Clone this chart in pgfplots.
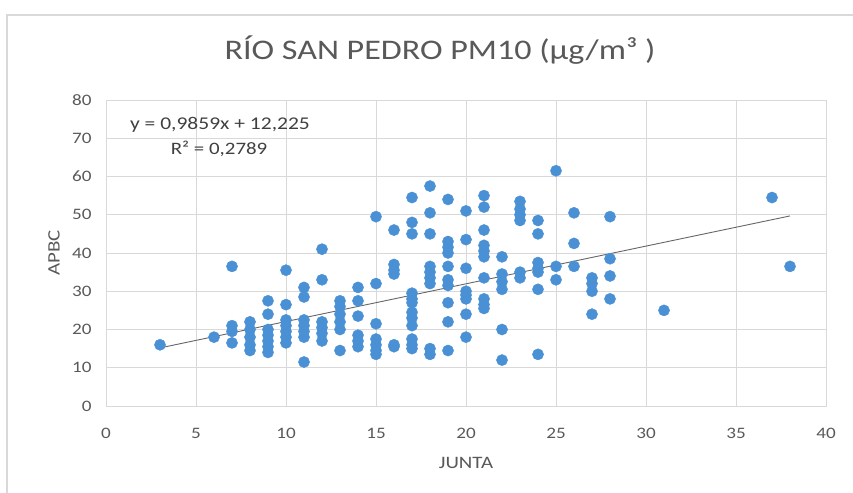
\documentclass[border=0pt]{standalone}
\usepackage{pgfplots}
\pgfplotsset{compat=1.18}
\usepackage{fontspec}
\setmainfont{Carlito}[FakeStretch=1.2]
\definecolor{ptblue}{HTML}{4A90D4}
\definecolor{txtgray}{HTML}{595959}
\definecolor{gridgray}{HTML}{D9D9D9}
\begin{document}
\begin{tikzpicture}[x=1bp,y=1bp]
\useasboundingbox (0,0) rectangle (853,493);
\draw[gridgray, line width=1.2bp] (7,-10) -- (7,478) -- (870,478);
\node[text=txtgray, font=\fontsize{28.5}{28.5}\selectfont] at (440,443) {RÍO SAN PEDRO PM10 (µg/m³ )};
\begin{axis}[
  at={(106bp,87bp)}, anchor=south west,
  width=720bp, height=306bp, scale only axis,
  xmin=0, xmax=40, ymin=0, ymax=80,
  xtick={0,5,...,40}, ytick={0,10,...,80},
  grid=major,
  grid style={gridgray, line width=0.9bp},
  axis line style={gridgray, line width=0.9bp},
  major tick length=0pt,
  ticklabel style={font=\fontsize{16}{16}\selectfont, text=txtgray},
  /pgf/number format/assume math mode=true,
  xticklabel style={anchor=center, yshift=-27bp},
  yticklabel style={anchor=east, xshift=-11bp},
  xlabel={JUNTA}, ylabel={APBC},
  label style={font=\fontsize{17.5}{17.5}\selectfont, text=txtgray},
  xlabel style={at={(axis description cs:0.5,0)}, anchor=center, yshift=-57bp},
  ylabel style={at={(axis description cs:0,0.5)}, anchor=center, yshift=52bp},
  clip=false,
]
\addplot[only marks, mark=*, mark size=5.6bp, mark options={draw=ptblue, fill=ptblue}] coordinates {
(3,16)
(6,18)
(7,36.5) (7,21) (7,19.5) (7,16.5)
(8,22) (8,20) (8,18) (8,16) (8,14.5)
(9,27.5) (9,24) (9,20) (9,18.5) (9,17) (9,15.5) (9,14)
(10,35.5) (10,26.5) (10,22.5) (10,21) (10,19.5) (10,18) (10,16.5)
(11,31) (11,28.5) (11,22.5) (11,21) (11,19.5) (11,18) (11,11.5)
(12,41) (12,33) (12,22) (12,20.5) (12,19) (12,17)
(13,27.5) (13,26) (13,24) (13,22) (13,20) (13,14.5)
(14,31) (14,27.5) (14,23.5) (14,18.5) (14,17) (14,15.5)
(15,49.5) (15,32) (15,21.5) (15,17.5) (15,16) (15,14.5) (15,13.5)
(16,46) (16,37) (16,35.5) (16,34.5) (16,16) (16,15.5)
(17,54.5) (17,48) (17,45) (17,29.5) (17,28) (17,27) (17,24.5) (17,23) (17,21) (17,17.5) (17,16) (17,15)
(18,57.5) (18,50.5) (18,45) (18,36.5) (18,35) (18,33.5) (18,32) (18,15) (18,13.5)
(19,54) (19,43) (19,41.5) (19,40) (19,36.5) (19,33) (19,31.5) (19,27) (19,22) (19,14.5)
(20,51) (20,43.5) (20,36) (20,30) (20,29) (20,28) (20,24) (20,18)
(21,55) (21,52) (21,46) (21,42) (21,40.5) (21,39) (21,33.5) (21,28) (21,26.5) (21,25.5)
(22,39) (22,34.5) (22,32.5) (22,30.5) (22,20) (22,12)
(23,53.5) (23,51.5) (23,50) (23,48.5) (23,35) (23,33.5)
(24,48.5) (24,45) (24,37.5) (24,36) (24,35) (24,30.5) (24,13.5)
(25,61.5) (25,36.5) (25,33)
(26,50.5) (26,42.5) (26,36.5)
(27,33.5) (27,32) (27,30) (27,24)
(28,49.5) (28,38.5) (28,34) (28,28)
(31,25)
(37,54.5)
(38,36.5)
};
\addplot[color=black!60, line width=0.9bp] coordinates {(3,15.18) (38,49.69)};
\node[text=black!75, font=\fontsize{18}{18}\selectfont] at (axis cs:6.33,73.5) {y = 0,9859x + 12,225};
\node[text=black!75, font=\fontsize{17.5}{17.5}\selectfont] at (axis cs:6.28,67.3) {R² = 0,2789};
\end{axis}
\end{tikzpicture}
\end{document}
